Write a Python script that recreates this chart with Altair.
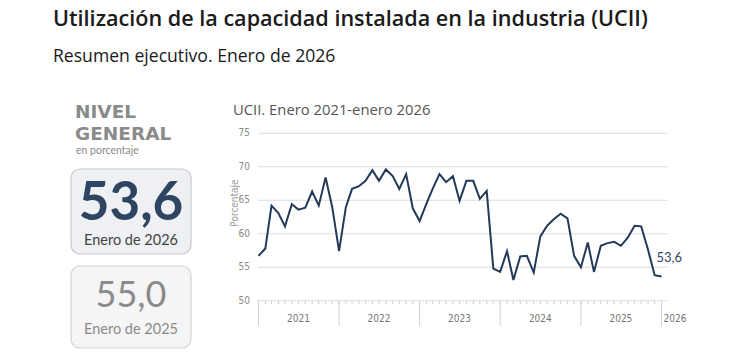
import altair as alt
import pandas as pd

# ---------------- data ----------------
TITLE = "Utilización de la capacidad instalada en la industria (UCII)"
SUBTITLE = "Resumen ejecutivo. Enero de 2026"
PANEL_HEAD_1 = "NIVEL"
PANEL_HEAD_2 = "GENERAL"
PANEL_UNIT = "en porcentaje"
CURRENT_VALUE = "53,6"
CURRENT_LABEL = "Enero de 2026"
PREVIOUS_VALUE = "55,0"
PREVIOUS_LABEL = "Enero de 2025"
CHART_TITLE = "UCII. Enero 2021-enero 2026"
Y_TITLE = "Porcentaje"
LAST_LABEL = "53,6"

YEARS = ["2021", "2022", "2023", "2024", "2025"]
LAST_YEAR = "2026"
Y_TICKS = [50, 55, 60, 65, 70, 75]

UCII = [
    56.7, 57.8, 64.2, 63.1, 61.1, 64.4, 63.6, 63.9, 66.3, 64.2, 68.4, 64.0,
    57.4, 64.0, 66.7, 67.1, 67.9, 69.5, 67.9, 69.6, 68.6, 66.7, 68.9, 63.8,
    61.9, 64.5, 66.7, 68.9, 67.7, 68.6, 64.9, 67.9, 67.9, 65.2, 66.4, 54.8,
    54.3, 57.4, 53.1, 56.6, 56.7, 54.2, 59.6, 61.2, 62.2, 63.0, 62.3, 56.7,
    55.0, 58.7, 54.3, 58.2, 58.6, 58.8, 58.2, 59.4, 61.2, 61.1, 57.6, 53.8,
    53.6,
]
MONTHS = [f"{y}/{m:02d}/01" for y in YEARS for m in range(1, 13)] + [f"{LAST_YEAR}/01/01"]

df = pd.DataFrame({"date": MONTHS, "v": UCII})

# ---------------- style ----------------
FONT = "Open Sans"
NUMFONT = "Lato"
NARROW = "'Liberation Sans Narrow', 'DejaVu Sans Condensed', 'Roboto Condensed', 'Liberation Sans', sans-serif"
NAVY = "#23395a"

XS = alt.Scale(
    domain=[alt.DateTime(year=2021, month=1, date=1), alt.DateTime(year=2026, month=1, date=1)],
    range=[258.5, 661.5],
)
YS = alt.Scale(domain=[50, 75], range=[300.7, 133.3], zero=False, nice=False)


def label(text, x, y, size, color, weight="normal", align="left", font=FONT,
          angle=0, baseline="alphabetic"):
    return alt.Chart(alt.Data(values=[{"t": text}])).mark_text(
        font=font, fontSize=size, color=color, fontWeight=weight,
        align=align, baseline=baseline, angle=angle,
    ).encode(x=alt.value(x), y=alt.value(y), text="t:N")


def box(x, x2, y, y2, fill, stroke):
    return alt.Chart(alt.Data(values=[{"b": 1}])).mark_rect(
        cornerRadius=9, fill=fill, stroke=stroke, strokeWidth=1.2,
    ).encode(x=alt.value(x), x2=alt.value(x2), y=alt.value(y), y2=alt.value(y2))


layers = []

# titles
layers.append(label(TITLE, 53, 26, 21.6, "#1a1a1a", weight=600))
layers.append(label(SUBTITLE, 53, 61.5, 17.6, "#1a1a1a"))

# left panel
layers.append(label(PANEL_HEAD_1, 75, 118, 18.5, "#8a8a8a", weight="bold", font="DejaVu Sans"))
layers.append(label(PANEL_HEAD_2, 75, 140, 18.5, "#8a8a8a", weight="bold", font="DejaVu Sans"))
layers.append(label(PANEL_UNIT, 76, 154, 10.5, "#8a8a8a", font=NUMFONT))
layers.append(box(71, 191, 169, 254, "#eef0f4", "#c6c9cd"))
layers.append(label(CURRENT_VALUE, 131, 220, 53, "#2e4562", weight="bold", align="center", font=NUMFONT))
layers.append(label(CURRENT_LABEL, 131, 245, 14.5, "#444444", align="center", font=NUMFONT))
layers.append(box(71, 191, 266, 348, "#f5f5f5", "#d3d3d3"))
layers.append(label(PREVIOUS_VALUE, 131, 307, 36, "#8a8a8a", align="center", font=NUMFONT))
layers.append(label(PREVIOUS_LABEL, 131, 334, 14.5, "#8a8a8a", align="center", font=NUMFONT))

# chart title and y title
layers.append(label(CHART_TITLE, 233, 115, 14.8, "#555555"))
layers.append(label(Y_TITLE, 235, 203, 10, "#999999", font=NARROW, angle=270,
                    align="center", baseline="middle"))

# gridlines and y labels
grid_df = pd.DataFrame({"g": Y_TICKS})
layers.append(
    alt.Chart(grid_df).mark_rule(color="#dcdcdc", strokeWidth=1).encode(
        y=alt.Y("g:Q", scale=YS, axis=None), x=alt.value(258), x2=alt.value(668)
    )
)
layers.append(
    alt.Chart(grid_df).mark_text(font=NARROW, fontSize=10, color="#8a8a8a",
                                 align="right", baseline="middle").encode(
        y=alt.Y("g:Q", scale=YS, axis=None), x=alt.value(250), text="g:Q"
    )
)

# x axis ticks
tick_df = pd.DataFrame({"d": MONTHS})
layers.append(
    alt.Chart(tick_df).mark_rule(color="#cccccc", strokeWidth=1).encode(
        x=alt.X("d:T", scale=XS, axis=None), y=alt.value(301), y2=alt.value(304)
    )
)
year_df = pd.DataFrame({"d": [f"{y}/01/01" for y in YEARS] + [f"{LAST_YEAR}/01/01"]})
layers.append(
    alt.Chart(year_df).mark_rule(color="#d0d0d0", strokeWidth=1).encode(
        x=alt.X("d:T", scale=XS, axis=None), y=alt.value(301), y2=alt.value(326)
    )
)
ylab_df = pd.DataFrame({"d": [f"{y}/07/01" for y in YEARS], "t": YEARS})
layers.append(
    alt.Chart(ylab_df).mark_text(font=NARROW, fontSize=10, color="#777777",
                                 align="center", baseline="alphabetic").encode(
        x=alt.X("d:T", scale=XS, axis=None), y=alt.value(322), text="t:N"
    )
)
layers.append(
    alt.Chart(pd.DataFrame({"d": [f"{LAST_YEAR}/01/01"], "t": [LAST_YEAR]})).mark_text(
        font=NARROW, fontSize=10, color="#777777", align="left", baseline="alphabetic", dx=2
    ).encode(x=alt.X("d:T", scale=XS, axis=None), y=alt.value(322), text="t:N")
)

# line
layers.append(
    alt.Chart(df).mark_line(color=NAVY, strokeWidth=2, strokeJoin="miter").encode(
        x=alt.X("date:T", scale=XS, axis=None),
        y=alt.Y("v:Q", scale=YS, axis=None),
    )
)
# last value label
last_df = pd.DataFrame({"date": [MONTHS[-1]], "v": [UCII[-1]], "t": [LAST_LABEL]})
layers.append(
    alt.Chart(last_df).mark_text(font=NUMFONT, fontSize=13, color="#2e4562", align="left",
                                 baseline="alphabetic", dx=-5, dy=-15).encode(
        x=alt.X("date:T", scale=XS, axis=None),
        y=alt.Y("v:Q", scale=YS, axis=None),
        text="t:N",
    )
)

chart = alt.layer(*layers).properties(
    width=750, height=356, padding=0,
    autosize=alt.AutoSizeParams(type="none"),
    background="white",
).configure_view(stroke=None)

chart.save("out.html", embed_options={"renderer": "svg", "actions": False})
